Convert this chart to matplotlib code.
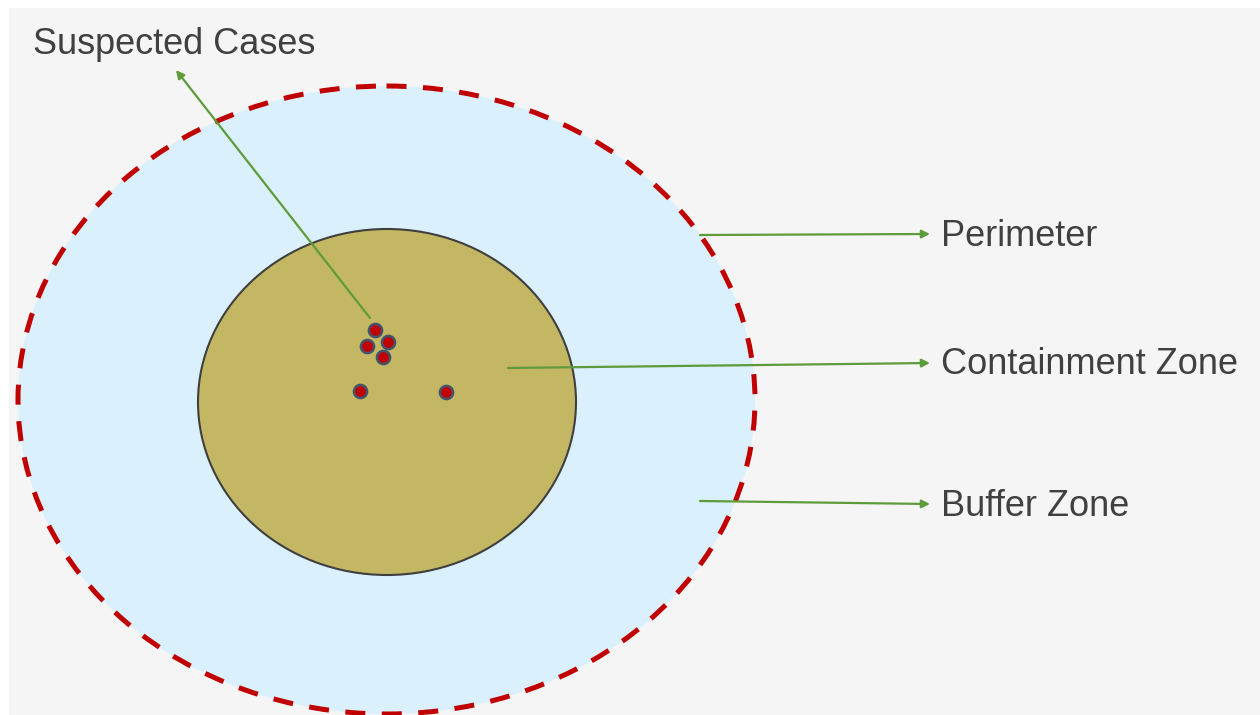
"""
Containment zone diagram: perimeter, buffer zone, containment zone, cases.
"""

import matplotlib.pyplot as plt
from matplotlib.patches import Ellipse, Rectangle

plt.rcParams['font.family'] = ['Liberation Sans', 'DejaVu Sans']

# suspected case locations (pixel space of the diagram)
case_x = [375, 367, 388, 383, 360, 446]
case_y = [330, 346, 342, 357, 391, 392]

# zone labels and where their arrows start
labels = ['Perimeter', 'Containment Zone', 'Buffer Zone']
arrow_start_x = [700, 508, 700]
arrow_start_y = [235, 368, 501]
arrow_end_y = [234, 363, 504]
label_y = [237, 365, 506]

W, H = 1260, 715
fig = plt.figure(figsize=(W / 100, H / 100), dpi=100)
ax = fig.add_axes([0, 0, 1, 1])
ax.set_xlim(0, W)
ax.set_ylim(H, 0)
ax.axis('off')

# grey panel
ax.add_patch(Rectangle((9, 8), W - 9, H - 8, color='#f5f5f5', zorder=0))

# outer zone (perimeter)
ax.add_patch(Ellipse((386.5, 400), 737, 628, facecolor='#daf0fc',
                     edgecolor='none', zorder=1))
ax.add_patch(Ellipse((386.5, 400), 737, 628, facecolor='none',
                     edgecolor='#c00000', lw=3.6, linestyle=(0, (4, 3.3)),
                     zorder=2))

# containment zone
ax.add_patch(Ellipse((387, 402), 378, 346, facecolor='#c4b764',
                     edgecolor='#3f3f3f', lw=1.5, zorder=3))

# cases
ax.scatter(case_x, case_y, s=90, c='#c00000', edgecolors='#44546a',
           linewidths=1.8, zorder=5)

arrow_kw = dict(arrowstyle='-|>', color='#5e9b3a', lw=1.6, mutation_scale=12,
                shrinkA=0, shrinkB=0)

# suspected cases label
ax.annotate('', xy=(176, 70), xytext=(370, 318), arrowprops=arrow_kw, zorder=4)
ax.text(33, 44, 'Suspected Cases', fontsize=26, color='#404040',
        va='center', ha='left')

for lab, sx, sy, ey, ty in zip(labels, arrow_start_x, arrow_start_y,
                               arrow_end_y, label_y):
    ax.annotate('', xy=(930, ey), xytext=(sx, sy), arrowprops=arrow_kw,
                zorder=4)
    ax.text(941, ty, lab, fontsize=26, color='#404040', va='center',
            ha='left')

fig.savefig('out.png', dpi=100)
